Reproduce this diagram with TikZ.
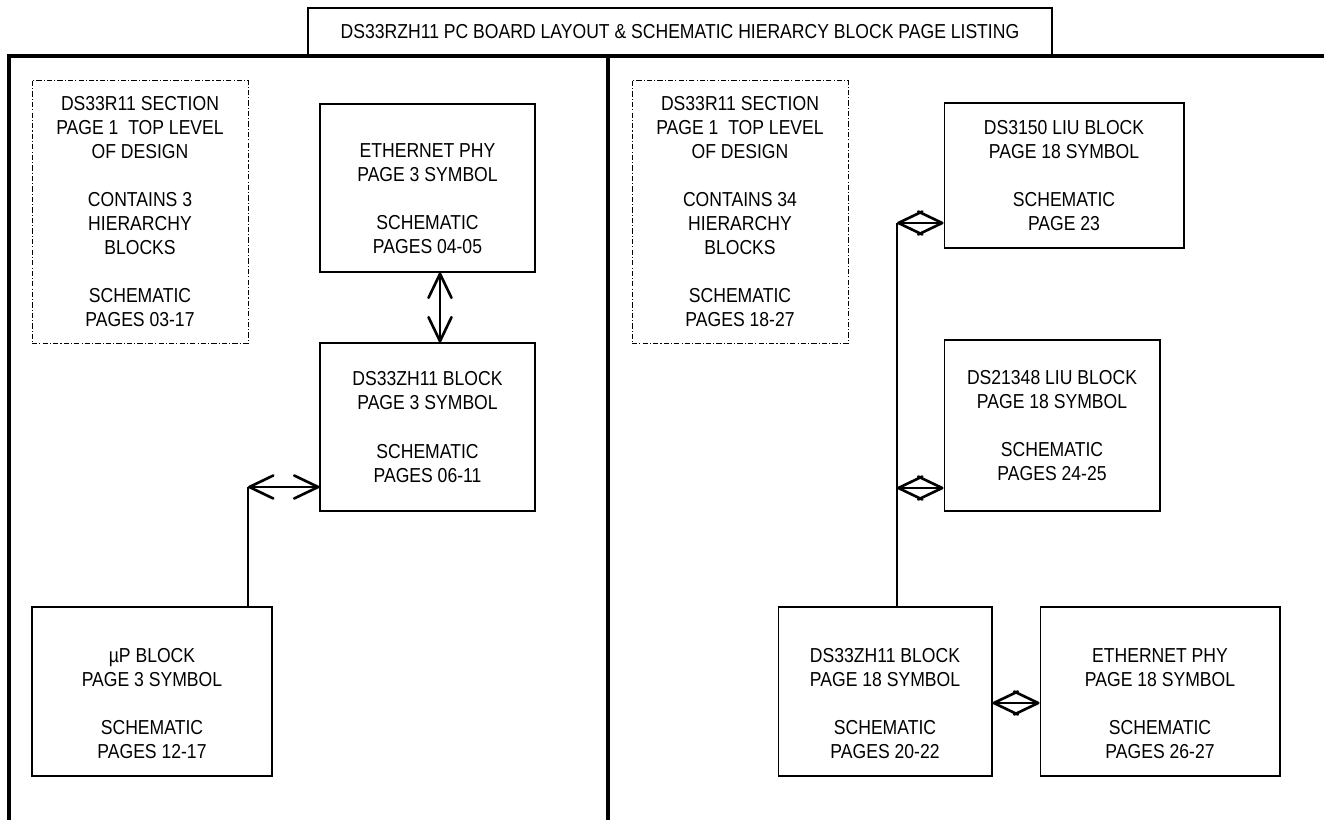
\documentclass[tikz,border=0pt]{standalone}
\usepackage{fontspec}
\setmainfont{Liberation Sans}[FakeStretch=0.87]
\usetikzlibrary{arrows.meta}
\newcommand{\blkfont}{\fontsize{11.5pt}{13.7pt}\selectfont}
\newcommand{\lift}[1]{\rule{0pt}{#1}}

\begin{document}
\begin{tikzpicture}[x=0.02cm, y=-0.02cm,
    blockbox/.style={draw, line width=0.6pt, align=center, font=\blkfont, inner sep=0pt},
    sectionbox/.style={draw, line width=0.5pt, dash pattern=on 3pt off 1.2pt on 0.6pt off 1.2pt,
        align=center, font=\blkfont, minimum width=4.32cm, minimum height=5.26cm},
    frameline/.style={line width=2.4pt},
    wire/.style={line width=1.5pt},
    link/.style={wire, {Straight Barb[length=0.48cm,width=0.46cm,round]}-{Straight Barb[length=0.48cm,width=0.46cm,round]}}]

    % Page size
    \useasboundingbox (0,0) rectangle (1324,820);

    % Title
    \node[draw, line width=0.7pt, minimum width=14.88cm, minimum height=0.96cm, font=\blkfont] (title) at (680,32)
        {DS33RZH11 PC BOARD LAYOUT \& SCHEMATIC HIERARCY BLOCK PAGE LISTING};

    % Frame
    \draw[frameline] (9,820) -- (9,56) -- (1324,56);
    \draw[frameline] (608,56) -- (608,820);

    % Left half
    \node[sectionbox] (secL) at (140,211.5) {DS33R11 SECTION\\PAGE 1~~TOP LEVEL\\OF DESIGN\\[13.7pt]CONTAINS 3\\HIERARCHY\\BLOCKS\\[13.7pt]SCHEMATIC\\PAGES 03-17};
    \node[blockbox, minimum width=4.3cm, minimum height=3.36cm] (ethL) at (427.5,188)
        {\lift{20pt}ETHERNET PHY\\PAGE 3 SYMBOL\\[13.7pt]SCHEMATIC\\PAGES 04-05};
    \node[blockbox, minimum width=4.3cm, minimum height=3.36cm] (zhL) at (427.5,427)
        {DS33ZH11 BLOCK\\PAGE 3 SYMBOL\\[13.7pt]SCHEMATIC\\PAGES 06-11};
    \node[blockbox, minimum width=4.8cm, minimum height=3.38cm] (upL) at (152,691.5)
        {\lift{22pt}µP BLOCK\\PAGE 3 SYMBOL\\[13.7pt]SCHEMATIC\\PAGES 12-17};

    % Right half
    \node[sectionbox] (secR) at (740,211.5) {DS33R11 SECTION\\PAGE 1~~TOP LEVEL\\OF DESIGN\\[13.7pt]CONTAINS 34\\HIERARCHY\\BLOCKS\\[13.7pt]SCHEMATIC\\PAGES 18-27};
    \node[blockbox, minimum width=4.8cm, minimum height=2.9cm] (liuA) at (1064,175.5)
        {DS3150 LIU BLOCK\\PAGE 18 SYMBOL\\[13.7pt]SCHEMATIC\\PAGE 23};
    \node[blockbox, minimum width=4.32cm, minimum height=3.42cm] (liuB) at (1052,425.5)
        {DS21348 LIU BLOCK\\PAGE 18 SYMBOL\\[13.7pt]SCHEMATIC\\PAGES 24-25};
    \node[blockbox, minimum width=4.28cm, minimum height=3.38cm] (zhR) at (885,691.5)
        {\lift{22pt}DS33ZH11 BLOCK\\PAGE 18 SYMBOL\\[13.7pt]SCHEMATIC\\PAGES 20-22};
    \node[blockbox, minimum width=4.8cm, minimum height=3.38cm] (ethR) at (1160,691.5)
        {\lift{22pt}ETHERNET PHY\\PAGE 18 SYMBOL\\[13.7pt]SCHEMATIC\\PAGES 26-27};

    % Links, left
    \coordinate (upbend) at (248,487);
    \draw[link] ([xshift=0.25cm]ethL.south) -- ([xshift=0.25cm]zhL.north);
    \draw[wire] (upbend |- upL.north) -- (upbend);
    \draw[link] (upbend) -- (upbend -| zhL.west);

    % Links, right
    \coordinate (rbend) at (897,223);
    \coordinate (rmid) at (897,488);
    \draw[wire] (rbend |- zhR.north) -- (rbend);
    \draw[link] (rbend) -- (rbend -| liuA.west);
    \draw[link] (rmid) -- (rmid -| liuB.west);
    \draw[link] ([yshift=-0.23cm]zhR.east) -- ([yshift=-0.23cm]ethR.west);
\end{tikzpicture}
\end{document}
